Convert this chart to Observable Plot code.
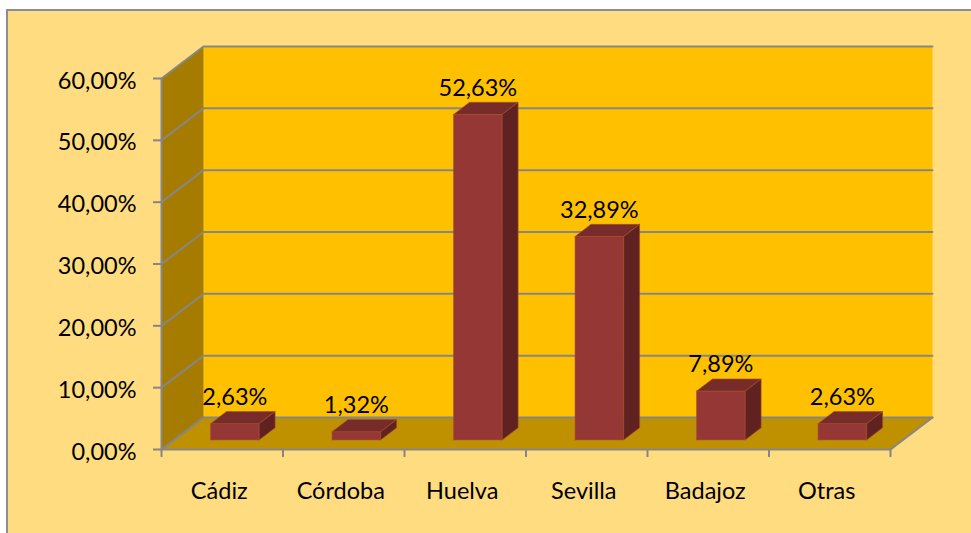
<!DOCTYPE html>
<html>
<head>
<meta charset="utf-8">
<script src="https://cdn.jsdelivr.net/npm/d3@7"></script>
<script src="https://cdn.jsdelivr.net/npm/@observablehq/plot@0.6"></script>
<style>
html,body{margin:0;padding:0;background:#fff;width:971px;height:533px;overflow:hidden}
#panel{position:absolute;left:6px;top:9px;width:980px;height:540px;background:#FFDC7F;border:2px solid #8a8d91;box-sizing:border-box}
#chart{position:absolute;left:0;top:0}
svg{background:transparent !important;display:block}
</style>
</head>
<body>
<div id="panel"></div>
<div id="chart"></div>
<script>
const categories = ["Cádiz","Córdoba","Huelva","Sevilla","Badajoz","Otras"];
const values = [2.63,1.32,52.63,32.89,7.89,2.63];
const yTicks = [0,10,20,30,40,50,60];
const fontFamily = "Lato, 'Open Sans', sans-serif";

// Oblique projection: depth 0 = front plane, depth 1 = back wall (in data units)
const depthX = 0.3457, depthY = 5.175;
const barDepthFront = 0.3, barDepthBack = 0.68, barHalf = 0.2;
const P = (x, y, d, id) => ({px: x + d * depthX, py: y + d * depthY, id});
const face = (id, pts) => pts.map(([x, y, d]) => P(x, y, d, id));

const N = categories.length, T = d3.max(yTicks);
const backWall = face("back", [[0,0,1],[N,0,1],[N,T,1],[0,T,1],[0,0,1]]);
const sideWall = face("side", [[0,0,0],[0,T,0],[0,T,1],[0,0,1],[0,0,0]]);
const floor = face("floor", [[0,0,0],[N,0,0],[N,0,1],[0,0,1],[0,0,0]]);
const grid = yTicks.flatMap(v => face("g" + v, [[0,v,0],[0,v,1],[N,v,1]]));
const edges = [
  ...face("front", [[0,T,0],[0,0,0],[N,0,0],[N,0,1]]),
  ...face("leftFloor", [[0,0,0],[0,0,1]])
];

const f1 = barDepthFront, f2 = barDepthBack;
const barFront = [], barTop = [], barSide = [];
values.forEach((v, i) => {
  const a = i + 0.5 - barHalf, b = i + 0.5 + barHalf;
  barFront.push(...face("f" + i, [[a,0,f1],[b,0,f1],[b,v,f1],[a,v,f1],[a,0,f1]]));
  barTop.push(...face("t" + i, [[a,v,f1],[b,v,f1],[b,v,f2],[a,v,f2],[a,v,f1]]));
  barSide.push(...face("s" + i, [[b,0,f1],[b,0,f2],[b,v,f2],[b,v,f1],[b,0,f1]]));
});
const labels = values.map((v, i) => ({
  x: i + 0.5 + f1 * depthX,
  y: v + f2 * depthY,
  text: v.toFixed(2).replace(".", ",") + "%"
}));

const poly = (data, fill, stroke = "none", strokeWidth = 0) =>
  Plot.line(data, {x: "px", y: "py", z: "id", fill, stroke, strokeWidth, curve: "linear"});

const chart = Plot.plot({
  width: 971, height: 533,
  marginLeft: 161, marginRight: 81, marginTop: 78, marginBottom: 84,
  style: {fontFamily, background: "transparent", overflow: "visible"},
  x: {domain: [0, N], label: null},
  y: {domain: [0, T], label: null},
  marks: [
    poly(backWall, "#FFC000"),
    poly(sideWall, "#A67C00"),
    poly(floor, "#BF9000"),
    Plot.line(grid, {x: "px", y: "py", z: "id", stroke: "#868686", strokeWidth: 2}),
    Plot.line(edges, {x: "px", y: "py", z: "id", stroke: "#868686", strokeWidth: 2}),
    poly(barFront, "#953735", "#A8502F", 0.6),
    poly(barTop, "#772C2A", "#A8502F", 0.6),
    poly(barSide, "#5F2221", "#A8502F", 0.6),
    Plot.text(labels, {x: "x", y: "y", text: "text", dy: -14, fontSize: 23.5, fill: "#000"}),
    Plot.axisY({ticks: yTicks, tickSize: 8, stroke: "#868686", strokeWidth: 2, strokeOpacity: 1,
      tickFormat: () => "", label: null}),
    Plot.axisY({ticks: yTicks, tickSize: 0, tickPadding: 25, dy: 2.5,
      fontSize: 23.5, color: "#000", label: null,
      tickFormat: d => d.toFixed(2).replace(".", ",") + "%"}),
    Plot.axisX({ticks: d3.range(N + 1), tickSize: 8, stroke: "#868686", strokeWidth: 2, strokeOpacity: 1,
      tickFormat: () => "", label: null}),
    Plot.axisX({ticks: categories.map((c, i) => i + 0.5), tickSize: 0, tickPadding: 33, dx: -3,
      fontSize: 23.5, color: "#000", label: null,
      tickFormat: d => categories[Math.floor(d)]})
  ]
});
document.getElementById("chart").append(chart);
</script>
</body>
</html>
